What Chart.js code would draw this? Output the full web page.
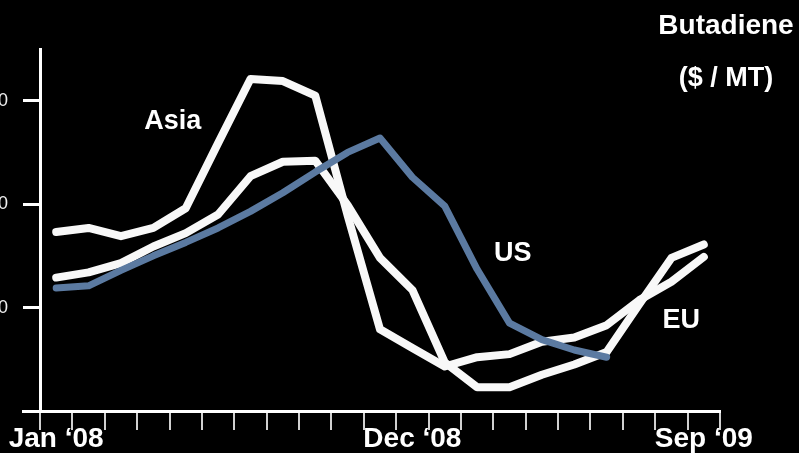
<!DOCTYPE html>
<html>
<head>
<meta charset="utf-8">
<script src="https://cdn.jsdelivr.net/npm/chart.js@4"></script>
<style>
  html, body { margin: 0; padding: 0; background: #000; }
</style>
</head>
<body>
<canvas id="line-chart" width="799" height="453"></canvas>
<script>
// months Jan '08 .. Sep '09
const months = ["Jan ‘08", "Feb ‘08", "Mar ‘08", "Apr ‘08", "May ‘08", "Jun ‘08", "Jul ‘08",
  "Aug ‘08", "Sep ‘08", "Oct ‘08", "Nov ‘08", "Dec ‘08", "Jan ‘09", "Feb ‘09", "Mar ‘09",
  "Apr ‘09", "May ‘09", "Jun ‘09", "Jul ‘09", "Aug ‘09", "Sep ‘09"];
const shownMonths = ["Jan ‘08", "Dec ‘08", "Sep ‘09"];

// $ / MT
const asia = [1730, 1770, 1690, 1770, 1960, 2590, 3210, 3190, 3050, 1890, 790,
  610, 430, 520, 550, 670, 710, 830, 1070, 1250, 1490];
const eu = [1290, 1340, 1430, 1590, 1720, 1900, 2270, 2410, 2420, 1990, 1480,
  1170, 470, 230, 230, 350, 450, 570, 1030, 1480, 1610];
const us = [1190, 1210, 1360, 1500, 1630, 1770, 1930, 2110, 2310, 2500, 2640,
  2260, 1980, 1370, 850, 690, 590, 520, null, null, null];

const yTicks = [1000, 2000, 3000];

// series names written next to the lines (category index, value)
const notes = [
  { text: "Asia", x: 3.6, y: 2800 },
  { text: "US", x: 14.1, y: 1520 },
  { text: "EU", x: 19.3, y: 870 }
];

const fontFamily = '"Liberation Sans", Arial, sans-serif';

const chartText = {
  id: 'chartText',
  beforeDraw(chart) {
    const ctx = chart.ctx;
    ctx.save();
    ctx.fillStyle = '#000';
    ctx.fillRect(0, 0, chart.width, chart.height);
    ctx.restore();
  },
  afterDraw(chart) {
    const { ctx, chartArea } = chart;
    const x = chart.scales.x, y = chart.scales.y;
    ctx.save();
    // x axis runs a little past the y axis on the left
    const yy = Math.round(chartArea.bottom - 1.5) + 1.5;
    ctx.strokeStyle = '#fff';
    ctx.lineWidth = 3;
    ctx.beginPath();
    ctx.moveTo(22, yy);
    ctx.lineTo(chartArea.left, yy);
    ctx.stroke();

    ctx.fillStyle = '#fff';
    ctx.textAlign = 'center';
    ctx.textBaseline = 'middle';
    ctx.font = 'bold 27px ' + fontFamily;
    notes.forEach(n => ctx.fillText(n.text, x.getPixelForValue(n.x), y.getPixelForValue(n.y)));
    ctx.font = 'bold 28px ' + fontFamily;
    ctx.fillText("Butadiene", 726, 26);
    ctx.font = 'bold 27px ' + fontFamily;
    ctx.fillText("($ / MT)", 726, 79);
    ctx.restore();
  }
};

new Chart(document.getElementById("line-chart"), {
  type: 'line',
  data: {
    labels: months,
    datasets: [
      { label: "US", data: us, borderColor: '#5b7aa1', borderWidth: 7 },
      { label: "Asia", data: asia, borderColor: '#f8f8f8', borderWidth: 8 },
      { label: "EU", data: eu, borderColor: '#f8f8f8', borderWidth: 8 }
    ]
  },
  options: {
    responsive: false,
    animation: false,
    spanGaps: false,
    elements: {
      point: { radius: 0 },
      line: { tension: 0, borderJoinStyle: 'round', borderCapStyle: 'round' }
    },
    layout: { padding: { top: 49, right: 79, bottom: 0, left: 0 } },
    plugins: {
      legend: { display: false },
      tooltip: { enabled: false }
    },
    scales: {
      x: {
        offset: true,
        grid: { offset: true, drawOnChartArea: false, tickLength: 19, color: '#d0d0d0', lineWidth: 2 },
        border: { color: '#fff', width: 3 },
        ticks: {
          autoSkip: false, minRotation: 0, maxRotation: 0, padding: -8, color: '#fff',
          font: { family: fontFamily, size: 28, weight: 'bold' },
          callback: function (v, i) {
            return shownMonths.includes(months[i]) ? months[i] : '';
          }
        },
        afterFit: function (s) { s.height = 42; }
      },
      y: {
        min: 0,
        max: 3500,
        afterBuildTicks: function (s) { s.ticks = yTicks.map(v => ({ value: v })); },
        grid: { drawOnChartArea: false, tickLength: 17, color: '#fff', lineWidth: 3 },
        border: { color: '#fff', width: 3 },
        ticks: {
          padding: 15, color: '#f0f0f0',
          font: { family: fontFamily, size: 18 },
          callback: v => v.toLocaleString('en-US')
        },
        afterFit: function (s) { s.width = 40; }
      }
    }
  },
  plugins: [chartText]
});
</script>
</body>
</html>
